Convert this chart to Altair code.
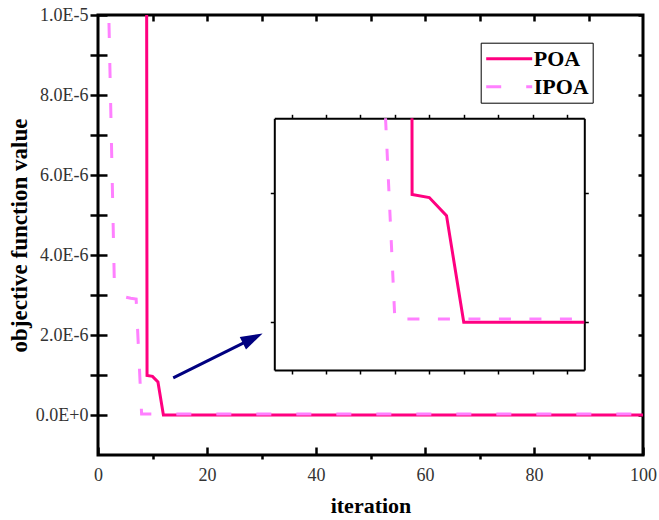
import altair as alt
import pandas as pd

# ---------------- data ----------------
iterations = list(range(1, 101))
# POA: first eight values lie far above the plotted range
poa_values = [3.1e-2, 8.5e-3, 2.4e-3, 9.6e-4, 6.2e-4, 3.5e-4, 2.1e-4, 1.3e-4,
              0.99e-6, 0.966e-6, 0.826e-6] + [0.0] * 89
ipoa_values = [3.6e-5, 9.9e-6, 3.3e-6, 3.25e-6, 2.95e-6, 2.92e-6, 2.9e-6] + [2.5e-8] * 93

series_names = ["POA", "IPOA"]
series_colors = ["#FF0080", "#FF80FF"]
series_dashes = [[1, 0], [15, 25]]

x_domain = [0, 100]
y_domain = [-1e-6, 1e-5]
x_ticks_major = [0, 20, 40, 60, 80, 100]
x_ticks_minor = [10, 30, 50, 70, 90]
x_ticks_top = [10, 20, 30, 40, 50, 60, 70, 80, 90]
y_ticks = [0, 1e-6, 2e-6, 3e-6, 4e-6, 5e-6, 6e-6, 7e-6, 8e-6, 9e-6, 1e-5]

inset_x_domain = [1, 19]
inset_y_domain = [-0.37e-6, 1.58e-6]
inset_x_ticks = [2, 4, 6, 8, 10, 12, 14, 16, 18]
inset_y_ticks = [0, 1e-6]

arrow_start = [13.8, 0.93e-6]
arrow_shaft_end = [28.3, 1.91e-6]
arrow_tip = [30.2, 2.04e-6]

# ---------------- layout ----------------
W, H = 545, 440
INSET_LEFT, INSET_RIGHT = 176.3, 486.3
INSET_TOP, INSET_BOTTOM = 103.3, 355.0

LABEL_FONT = "Liberation Serif"

df = pd.DataFrame({
    "iteration": iterations * 2,
    "value": poa_values + ipoa_values,
    "series": ["POA"] * len(iterations) + ["IPOA"] * len(iterations),
})

xs = alt.Scale(domain=x_domain, nice=False, zero=False)
ys = alt.Scale(domain=y_domain, nice=False, zero=False)

legend = alt.Legend(
    orient="none", legendX=382.7, legendY=27.7, title=None,
    symbolType="stroke", symbolSize=2116, symbolStrokeWidth=3,
    labelFont=LABEL_FONT, labelFontWeight="bold", labelFontSize=22,
    labelColor="black", strokeColor="black", padding=4, rowPadding=4,
    clipHeight=24, labelOffset=0,
)
color = alt.Color("series:N", scale=alt.Scale(domain=series_names, range=series_colors), legend=legend)
dash = alt.StrokeDash("series:N", scale=alt.Scale(domain=series_names, range=series_dashes), legend=legend)

base = alt.Chart(df)

y_label_expr = ("abs(datum.value / 2e-6 - round(datum.value / 2e-6)) < 0.001 ? "
                "replace(format(datum.value, '.1e'), 'e', 'E') : ''")

poa_line = base.transform_filter(alt.datum.series == "POA").mark_line(
    clip=True, strokeWidth=3
).encode(
    x=alt.X("iteration:Q", scale=xs, axis=alt.Axis(
        orient="bottom", values=x_ticks_major, ticks=False, tickSize=0, domain=False,
        labelPadding=11, labelFlush=False, title="iteration", titlePadding=11)),
    y=alt.Y("value:Q", scale=ys, axis=alt.Axis(
        orient="left", values=y_ticks, tickSize=8, domain=False, labelExpr=y_label_expr,
        labelPadding=2, labelOverlap=False, title="objective function value",
        titlePadding=4, titleFontSize=23)),
    color=color, strokeDash=dash,
)

ipoa_line = base.transform_filter(alt.datum.series == "IPOA").mark_line(
    clip=True, strokeWidth=3, strokeDashOffset=32
).encode(
    x=alt.X("iteration:Q", scale=xs, axis=alt.Axis(
        orient="bottom", values=x_ticks_major, tickSize=8, offset=-8, labels=False,
        domain=False, title=None)),
    y=alt.Y("value:Q", scale=ys, axis=alt.Axis(
        orient="left", values=y_ticks, tickSize=9, offset=-9, labels=False,
        domain=False, title=None)),
    color=color, strokeDash=dash,
)

shaft_df = pd.DataFrame({"x": [arrow_start[0]], "y": [arrow_start[1]],
                         "x2": [arrow_shaft_end[0]], "y2": [arrow_shaft_end[1]]})
arrow_shaft = alt.Chart(shaft_df).mark_rule(color="#000080", strokeWidth=3).encode(
    x=alt.X("x:Q", scale=xs, axis=alt.Axis(
        orient="bottom", values=x_ticks_minor, tickSize=4, labels=False,
        domain=False, title=None)),
    y=alt.Y("y:Q", scale=ys, axis=alt.Axis(
        orient="right", values=y_ticks, tickSize=5, offset=-5, labels=False,
        domain=False, title=None)),
    x2="x2:Q", y2="y2:Q",
)

head_df = pd.DataFrame({"x": [arrow_tip[0]], "y": [arrow_tip[1]]})
arrow_head = alt.Chart(head_df).mark_point(
    shape="M0,0 L-2,-0.64 L-2,0.64 Z", size=484, filled=True, opacity=1,
    color="#000080", angle=333.6,
).encode(
    x=alt.X("x:Q", scale=xs, axis=alt.Axis(
        orient="top", values=x_ticks_top, tickSize=6, offset=-6, labels=False,
        domain=False, title=None)),
    y=alt.Y("y:Q", scale=ys, axis=None),
)

main = alt.layer(poa_line, ipoa_line, arrow_shaft, arrow_head).resolve_axis(
    x="independent", y="independent")

# ---------------- inset ----------------
T = inset_y_domain[1]
inset_base = base.transform_filter(
    alt.datum.iteration <= inset_x_domain[1]
).transform_window(
    next_it="lead(iteration)", next_val="lead(value)",
    groupby=["series"], sort=[alt.SortField("iteration", order="ascending")],
).transform_calculate(
    ix=(f"datum.value > {T} && isValid(datum.next_val) ? datum.iteration + "
        f"(datum.value - {T}) / (datum.value - datum.next_val) * (datum.next_it - datum.iteration)"
        f" : datum.iteration"),
    iv=f"min(datum.value, {T})",
).transform_filter(
    f"datum.value <= {T} || (isValid(datum.next_val) && datum.next_val <= {T})"
)

ixs = alt.Scale(domain=inset_x_domain, range=[INSET_LEFT, INSET_RIGHT], nice=False, zero=False)
iys = alt.Scale(domain=inset_y_domain, range=[INSET_BOTTOM, INSET_TOP], nice=False, zero=False)

inset_axis_style = dict(labels=False, title=None, domain=True, domainColor="black",
                        domainWidth=2, tickColor="black", tickWidth=1.5, tickSize=4)

inset_poa = inset_base.transform_filter(alt.datum.series == "POA").mark_line(
    color=series_colors[0], strokeWidth=3
).encode(
    x=alt.X("ix:Q", scale=ixs, axis=alt.Axis(orient="bottom", values=inset_x_ticks,
                                             offset=-(H - INSET_BOTTOM), **inset_axis_style)),
    y=alt.Y("iv:Q", scale=iys, axis=alt.Axis(orient="left", values=inset_y_ticks,
                                             offset=-INSET_LEFT, **inset_axis_style)),
)

inset_ipoa = inset_base.transform_filter(alt.datum.series == "IPOA").mark_line(
    color=series_colors[1], strokeWidth=3, strokeDash=[12, 18.5]
).encode(
    x=alt.X("ix:Q", scale=ixs, axis=alt.Axis(orient="top", values=inset_x_ticks,
                                             offset=-INSET_TOP, **inset_axis_style)),
    y=alt.Y("iv:Q", scale=iys, axis=alt.Axis(orient="right", values=inset_y_ticks,
                                             offset=-(W - INSET_RIGHT), **inset_axis_style)),
)

inset = alt.layer(inset_poa, inset_ipoa).resolve_axis(x="independent", y="independent")

chart = alt.layer(main, inset).resolve_scale(
    x="independent", y="independent"
).properties(
    width=W, height=H,
    autosize=alt.AutoSizeParams(type="none"),
    padding={"left": 98, "top": 15, "right": 16, "bottom": 65},
).configure_view(
    stroke="black", strokeWidth=3
).configure_axis(
    grid=False, labelFont=LABEL_FONT, labelFontSize=18, labelColor="#333333",
    titleFont=LABEL_FONT, titleFontWeight="bold", titleFontSize=22, titleColor="black",
    tickColor="black", tickWidth=2.5, domainColor="black",
).configure_legend(
    strokeColor="black"
)

chart.save("out.html", embed_options={"renderer": "svg", "actions": False})
